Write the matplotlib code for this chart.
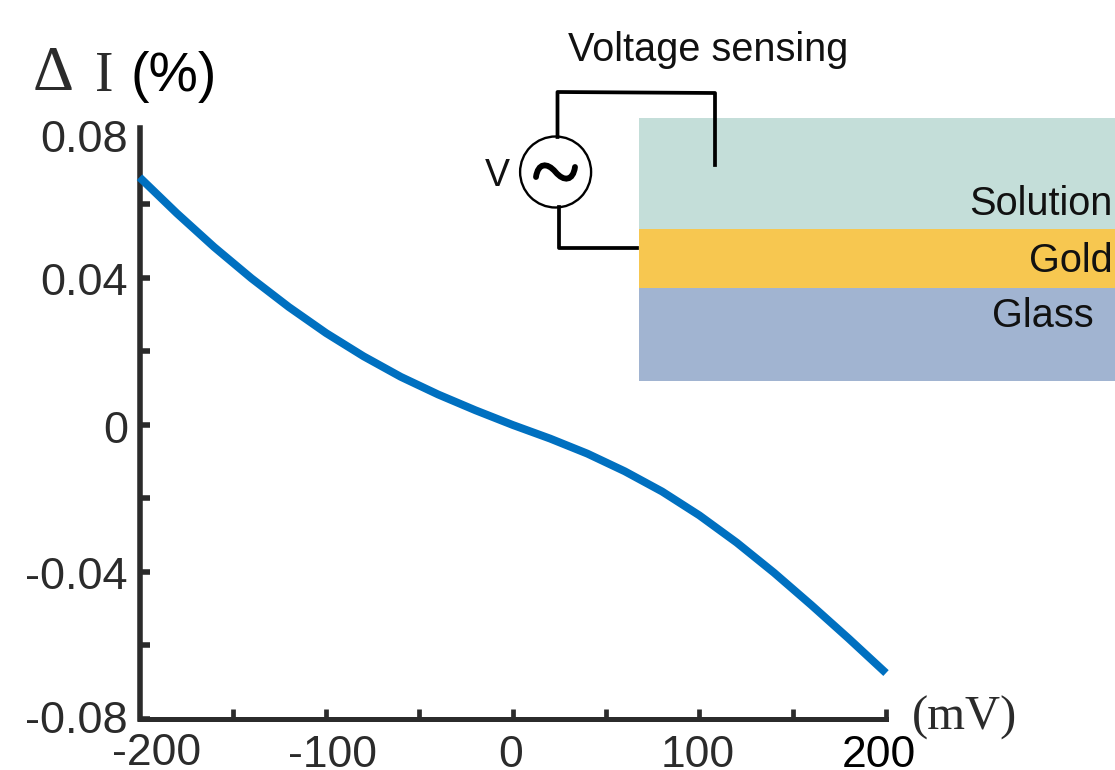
import matplotlib
matplotlib.use('Agg')
import matplotlib.pyplot as plt
from matplotlib.patches import Circle, PathPatch, Rectangle
from matplotlib.path import Path

# values
voltage = [-200, -180, -160, -140, -120, -100, -80, -60, -40, -20, 0,
           20, 40, 60, 80, 100, 120, 140, 160, 180, 200]
delta_i = [0.0674, 0.0576, 0.0484, 0.0399, 0.0321, 0.0250, 0.0187, 0.0131, 0.0083, 0.0040, 0.0,
           -0.0037, -0.0078, -0.0126, -0.0181, -0.0246, -0.0320, -0.0402, -0.0490, -0.0581, -0.0675]
x_ticks = [-100, 0, 100, 200]
x_minor = [-150, -50, 50, 150]
y_ticks = [-0.08, -0.04, 0, 0.04]
y_minor = [-0.06, -0.02, 0.02, 0.06]
x_labels = ['-200', '-100', '0', '100', '200']
y_labels = ['-0.08', '-0.04', '0', '0.04', '0.08']

W, H = 1115, 770
DARK = '#2b2b2b'
SANS = 'Liberation Sans'
SERIF = 'Liberation Serif'

fig = plt.figure(figsize=(W / 100, H / 100), dpi=100)
ax = fig.add_axes([139.5 / W, 1 - 719 / H, (886 - 139.5) / W, (719 - 128) / H])
ax.plot(voltage, delta_i, color='#0070c0', lw=5.7, solid_capstyle='butt', solid_joinstyle='round',
        clip_on=False, zorder=3)
ax.set_xlim(-200, 200)
ax.set_ylim(-0.08, 0.0808)
ax.spines['top'].set_visible(False)
ax.spines['right'].set_visible(False)
ax.spines['left'].set_linewidth(4)
ax.spines['bottom'].set_linewidth(3.6)
ax.spines['left'].set_color(DARK)
ax.spines['bottom'].set_color(DARK)
ax.set_xticks(x_ticks + x_minor)
ax.set_xticklabels([])
ax.set_yticks(y_ticks + y_minor)
ax.set_yticklabels([])
ax.tick_params(axis='x', direction='in', length=7, width=3.4, color=DARK)
ax.tick_params(axis='y', direction='in', length=7.5, width=4, color=DARK)

# schematic and labels in pixel coordinates
over = fig.add_axes([0, 0, 1, 1], facecolor='none')
over.set_xlim(0, W)
over.set_ylim(H, 0)
over.axis('off')

# the tick labels sit unevenly in the reference, so they are placed one by one
x_label_pos = [(157, 765), (332, 767), (511, 767), (698, 767), (879, 767)]
y_label_base = [733, 589, 443, 295, 152]
for s, (px, py) in zip(x_labels, x_label_pos):
    c = 'black' if s == '200' else DARK
    over.text(px, py, s, fontsize=32, family=SANS, color=c, ha='center', va='baseline')
for s, py in zip(y_labels, y_label_base):
    over.text(128, py, s, fontsize=32.5, family=SANS, color=DARK, ha='right', va='baseline')

over.text(33, 90, '\u0394', fontsize=46, family=SERIF, color=DARK, va='baseline')
over.text(95, 91, 'I', fontsize=40, family=SERIF, color=DARK, va='baseline')
over.text(131, 91, '(%)', fontsize=40, family=SANS, color='black', va='baseline')
over.text(912, 730, '(mV)', fontsize=35, family=SERIF, color=DARK, va='baseline')

over.add_patch(Rectangle((639, 118), W - 639, 111, color='#c4ded9', lw=0))
over.add_patch(Rectangle((639, 229), W - 639, 59, color='#f7c750', lw=0))
over.add_patch(Rectangle((639, 288), W - 639, 93, color='#a1b4d1', lw=0))

over.plot([557.5, 557.5, 715, 715], [137, 92, 93, 165], color='black', lw=2.7)
over.plot([558.5, 558.5, 637], [207, 248, 248], color='black', lw=2.7)
over.add_patch(Circle((555.6, 172), 35.5, fc='white', ec='black', lw=1.7))
wave = Path([(536, 177), (538, 163), (547, 162), (555.5, 172), (564, 182), (573, 181), (575, 167)],
            [Path.MOVETO, Path.CURVE4, Path.CURVE4, Path.CURVE4, Path.CURVE4, Path.CURVE4, Path.CURVE4])
over.add_patch(PathPatch(wave, fc='none', ec='black', lw=4.2, capstyle='round'))

over.text(568, 61, 'Voltage sensing', fontsize=28.6, family=SANS, color='#111111', va='baseline')
over.text(485, 186, 'V', fontsize=27, family=SANS, color='#111111', va='baseline')
over.text(1113, 215, 'Solution', fontsize=28.6, family=SANS, color='#111111', ha='right', va='baseline')
over.text(1113, 272, 'Gold', fontsize=28.6, family=SANS, color='#111111', ha='right', va='baseline')
over.text(992, 327, 'Glass', fontsize=28.6, family=SANS, color='#111111', va='baseline')

fig.savefig('out.png', dpi=100)
